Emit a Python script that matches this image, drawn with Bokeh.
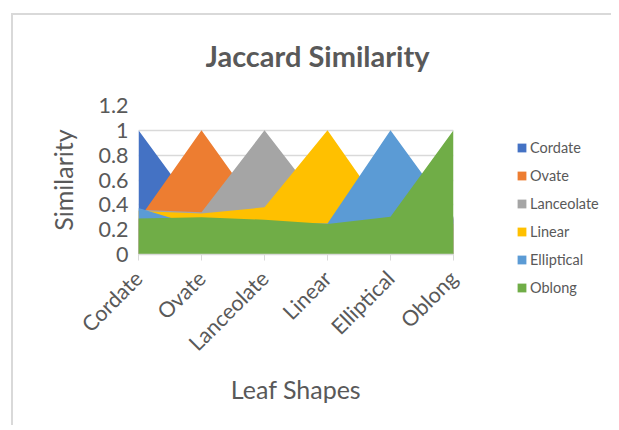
from math import pi
from bokeh.plotting import figure
from bokeh.models import FixedTicker, NumeralTickFormatter, Range1d, Legend, LegendItem, Label
from bokeh.embed import file_html
from bokeh.resources import INLINE

title_text = "Jaccard Similarity"
shapes = ["Cordate", "Ovate", "Lanceolate", "Linear", "Elliptical", "Oblong"]
x_pos = [0, 1, 2, 3, 4, 5]

cordate = [1.0, 0.31, 0.36, 0.35, 0.37, 0.29]
ovate = [0.28, 1.0, 0.29, 0.33, 0.22, 0.30]
lanceolate = [0.36, 0.34, 1.0, 0.345, 0.25, 0.28]
linear = [0.35, 0.33, 0.38, 1.0, 0.275, 0.245]
elliptical = [0.375, 0.22, 0.25, 0.25, 1.0, 0.305]
oblong = [0.29, 0.30, 0.28, 0.245, 0.305, 1.0]

series = [cordate, ovate, lanceolate, linear, elliptical, oblong]
colors = ["#4472C4", "#ED7D31", "#A5A5A5", "#FFC000", "#5B9BD5", "#70AD47"]
y_ticks = [0, 0.2, 0.4, 0.6, 0.8, 1.0, 1.2]

TEXT = "#595959"
FONT = "Lato"

p = figure(width=600, height=412, output_backend="svg", toolbar_location=None,
           x_range=Range1d(0, 5), y_range=Range1d(0, 1.2),
           min_border_left=125, min_border_right=160, min_border_top=90, min_border_bottom=173,
           styles={"position": "relative", "left": "11px", "top": "13px",
                   "border-left": "2px solid #d9d9d9", "border-top": "2px solid #d9d9d9"})
p.outline_line_color = None

for vals, c in zip(series, colors):
    p.varea(x=x_pos, y1=0, y2=vals, fill_color=c)

p.xaxis.ticker = FixedTicker(ticks=x_pos)
p.xaxis.major_label_overrides = {i: s for i, s in zip(x_pos, shapes)}
p.xaxis.major_label_orientation = pi / 4
p.xaxis.axis_line_color = "#d9d9d9"
p.xaxis.axis_line_width = 1.5
p.xaxis.major_tick_line_color = "#d9d9d9"
p.xaxis.major_tick_out = 6
p.xaxis.major_tick_in = 0
p.xaxis.minor_tick_line_color = None
p.xaxis.major_label_standoff = 14
p.xaxis.axis_label = "Leaf Shapes"

p.yaxis.ticker = FixedTicker(ticks=y_ticks)
p.yaxis.formatter = NumeralTickFormatter(format="0.[0]")
p.yaxis.axis_line_color = None
p.yaxis.major_tick_line_color = None
p.yaxis.major_tick_out = 0
p.yaxis.major_tick_in = 0
p.yaxis.minor_tick_line_color = None
p.yaxis.major_label_standoff = 10
p.yaxis.axis_label = "Similarity"
p.yaxis.axis_label_standoff = 17

for ax in (p.xaxis[0], p.yaxis[0]):
    ax.major_label_text_font = FONT
    ax.major_label_text_font_size = "21.5px"
    ax.major_label_text_color = TEXT
    ax.axis_label_text_font = FONT
    ax.axis_label_text_font_size = "25px"
    ax.axis_label_text_font_style = "normal"
    ax.axis_label_text_color = TEXT

p.xaxis.axis_label_standoff = 6

p.xgrid.visible = False
p.ygrid.ticker = FixedTicker(ticks=y_ticks)
p.ygrid.grid_line_color = "#d9d9d9"
p.ygrid.grid_line_width = 1.5

# chart title, in its own small canvas placed above the plot area
tf = figure(width=240, height=40, output_backend="svg", toolbar_location=None, title=None,
            x_range=Range1d(0, 1), y_range=Range1d(0, 1),
            x_axis_type=None, y_axis_type=None,
            min_border_left=0, min_border_right=0, min_border_top=0, min_border_bottom=0,
            styles={"position": "absolute", "left": "205px", "top": "35px"})
tf.outline_line_color = None
tf.xgrid.visible = False
tf.ygrid.visible = False
tf.background_fill_alpha = 0
tf.border_fill_alpha = 0
tf.add_layout(Label(x=0, y=0.5, text=title_text, text_font=FONT, text_font_size="29px",
                    text_font_style="bold", text_color=TEXT,
                    text_align="left", text_baseline="middle"))

# legend, drawn in its own small canvas placed to the right of the plot area
lg = figure(width=100, height=160, output_backend="svg", toolbar_location=None, title=None,
            x_range=Range1d(0, 1), y_range=Range1d(0, 1),
            x_axis_type=None, y_axis_type=None,
            min_border_left=0, min_border_right=0, min_border_top=0, min_border_bottom=0,
            styles={"position": "absolute", "left": "516px", "top": "137px"})
lg.outline_line_color = None
lg.xgrid.visible = False
lg.ygrid.visible = False
lg.background_fill_alpha = 0
lg.border_fill_alpha = 0

items = []
for name, c in zip(shapes, colors):
    # swatch-only renderer: its data lies outside this canvas's ranges
    r = lg.varea(x=[5, 6], y1=[5, 5], y2=[6, 6], fill_color=c)
    items.append(LegendItem(label=name, renderers=[r]))

legend = Legend(items=items, location="top_left", padding=0, margin=0,
                border_line_color=None, background_fill_alpha=0,
                glyph_width=11, glyph_height=11, label_height=20, spacing=8,
                label_text_font=FONT, label_text_font_size="14.5px", label_text_color=TEXT,
                label_standoff=3)
lg.add_layout(legend, "center")

open("out.html", "w").write(file_html([p, tf, lg], INLINE))
